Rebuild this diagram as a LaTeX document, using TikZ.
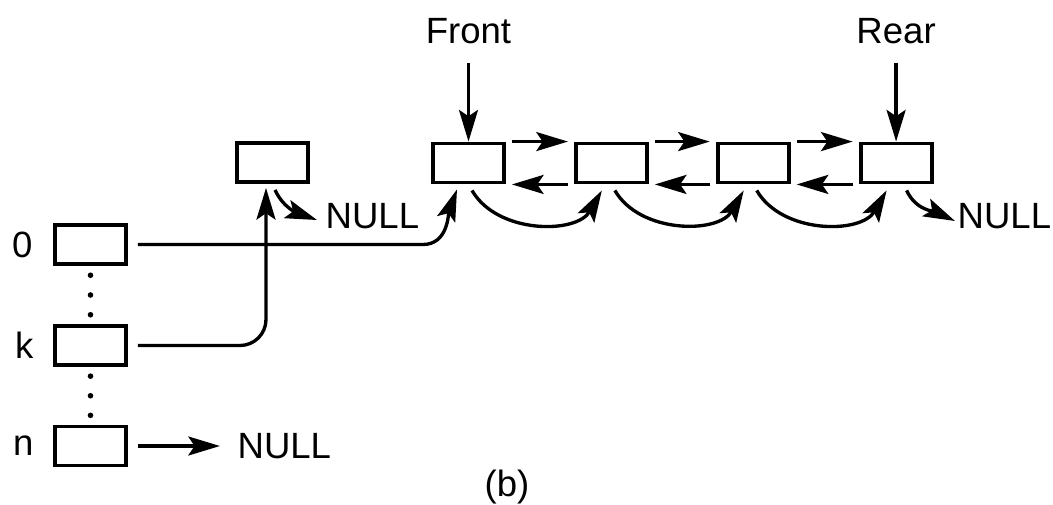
\documentclass[tikz,border=0pt]{standalone}
\usepackage{fontspec}
\setmainfont{Liberation Sans}
\usetikzlibrary{positioning,arrows.meta,calc}
\tikzset{
  cell/.style={draw, line width=1.1pt, minimum width=0.71cm, minimum height=0.39cm, inner sep=0pt},
  lbl/.style={font=\fontsize{10.4}{12}\selectfont, inner sep=0pt},
  ptr/.style={line width=0.95pt, -{Stealth[length=9pt,width=5.4pt,inset=1.8pt]}},
}
\begin{document}
\begin{tikzpicture}
\useasboundingbox (0,0) rectangle (10.53,5.04);
% table slots
\node[cell] (slot0) at (0.905,2.595) {};
\node[cell] (slotk) at (0.905,1.585) {};
\node[cell] (slotn) at (0.905,0.58) {};
\node[lbl,left=0.2cm of slot0] (idx0) {0};
\node[lbl,left=0.19cm of slotk] (idxk) {k};
\node[lbl,left=0.19cm of slotn] (idxn) {n};
\foreach \f in {0.16,0.5,0.84}{
  \fill ($(slot0.south)!\f!(slotk.north)$) circle (0.028);
  \fill ($(slotk.south)!\f!(slotn.north)$) circle (0.028);
}
% single node and queue
\node[cell] (lone) at (2.725,3.415) {};
\node[cell] (q1) at (4.685,3.41) {};
\node[cell,right=0.68cm of q1] (q2) {};
\node[cell,right=0.67cm of q2] (q3) {};
\node[cell,right=0.68cm of q3] (q4) {};
\node[lbl,above=0.97cm of q1] (front) {Front};
\node[lbl,above=0.97cm of q4] (rear) {Rear};
\draw[ptr,shorten <=0.18cm] (front.south -| q1.north) -- (q1.north);
\draw[ptr,shorten <=0.18cm] (rear.south -| q4.north) -- (q4.north);
\foreach \a/\b in {q1/q2,q2/q3,q3/q4}{
  \draw[ptr] ([xshift=0.06cm]\a.north east) -- ([xshift=-0.06cm]\b.north west);
  \draw[ptr] ([xshift=-0.06cm]\b.south west) -- ([xshift=0.06cm]\a.south east);
  \draw[ptr] ([xshift=0.035cm,yshift=-0.06cm]\a.south) to[out=-60,in=-120] ([xshift=-0.095cm,yshift=-0.06cm]\b.south);
}
% NULL ends
\node[lbl,anchor=west] (nullA) at (3.25,2.88) {NULL};
\node[lbl,anchor=west] (nullB) at (9.57,2.88) {NULL};
\node[lbl,right=1.09cm of slotn] (nullC) {NULL};
\draw[ptr] ([xshift=0.025cm,yshift=-0.06cm]lone.south) to[out=-65,in=160] ([xshift=-0.08cm,yshift=-0.04cm]nullA.west);
\draw[ptr] ([xshift=0.105cm,yshift=-0.06cm]q4.south) to[out=-65,in=155] ([xshift=-0.02cm,yshift=-0.05cm]nullB.west);
\draw[ptr] ([xshift=0.1cm]slotn.east) -- ([xshift=-0.17cm]nullC.west);
% slot pointers
\draw[ptr] ([xshift=0.1cm]slot0.east) -- ++(2.85,0) to[out=0,in=-110] ([xshift=-0.115cm,yshift=-0.05cm]q1.south);
\draw[ptr,rounded corners=0.26cm] ([xshift=0.1cm]slotk.east) -| ([xshift=-0.065cm,yshift=-0.04cm]lone.south);
\node[lbl] (cap) at (5.07,0.17) {(b)};
\end{tikzpicture}
\end{document}
